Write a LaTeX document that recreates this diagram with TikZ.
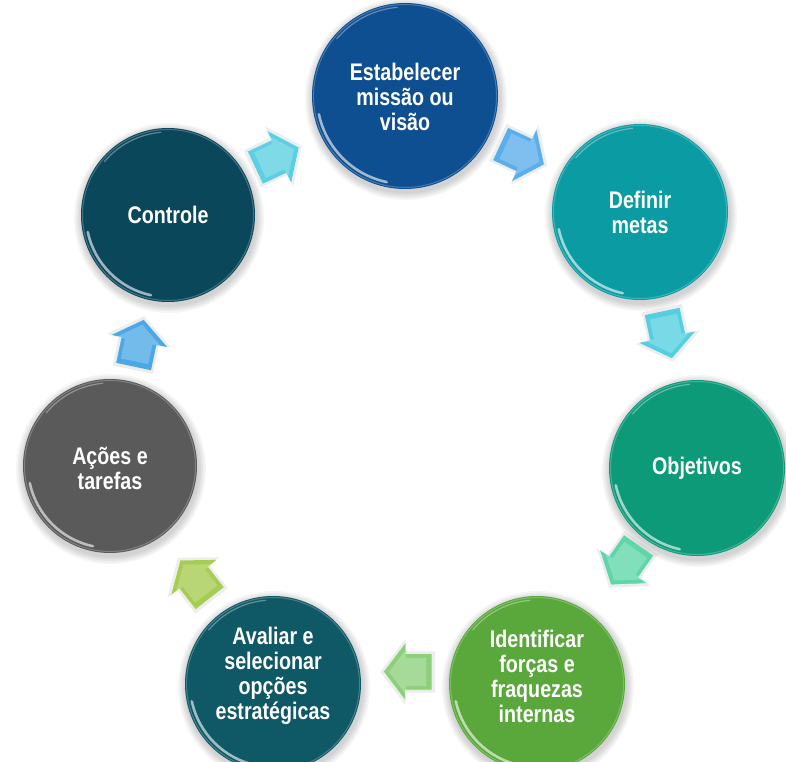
\documentclass[tikz,border=0pt]{standalone}
\usepackage{fontspec}
\newfontfamily\lblfont{Liberation Sans}[FakeStretch=0.82]
\usetikzlibrary{calc}
\definecolor{cEst}{HTML}{0E4F91}
\definecolor{cDef}{HTML}{0A9BA3}
\definecolor{cObj}{HTML}{0D9A79}
\definecolor{cIde}{HTML}{5AA83B}
\definecolor{cAva}{HTML}{0F5866}
\definecolor{cAco}{HTML}{5A5A5A}
\definecolor{cCtl}{HTML}{0B475A}
\definecolor{aA}{HTML}{5CD0E2}
\definecolor{aB}{HTML}{5AAEEC}
\definecolor{aC}{HTML}{55CFE0}
\definecolor{aD}{HTML}{5ED6A9}
\definecolor{aE}{HTML}{8CD07C}
\definecolor{aF}{HTML}{A6CC52}
\definecolor{aG}{HTML}{4BA8E6}
\newcommand\mybubble[6]{%
  \foreach \k in {1,...,5} {\fill[black,opacity=0.035] ($(#2)+(1,-3)$) circle[radius=#3+\k*1.6];}
  \node[bubble, minimum size=2*#3, fill=#4] (#1) at (#2) {};
  \draw[#4!70!white, line width=1pt, opacity=0.8] (#1.center) circle[radius=#3-1.5];
  \draw[white, line width=2.6pt, opacity=0.6, line cap=round] ([shift={(192:#3-5)}]#1.center) arc[start angle=192, end angle=258, radius=#3-5];
  \draw[white, line width=1.2pt, opacity=0.35, line cap=round] ([shift={(95:#3-4)}]#1.center) arc[start angle=95, end angle=140, radius=#3-4];
  \node[lbl] (#1-t) at ($(#1.center)+(0,#6)$) {#5};
}
\begin{document}
\begin{tikzpicture}[x=1pt,y=1pt,
  bubble/.style={circle, inner sep=0pt, draw=none},
  lbl/.style={text=white, align=center, inner sep=0pt, font=\lblfont\bfseries\fontsize{24}{25}\selectfont},
  pics/barrow/.style={code={
    \fill[black,opacity=0.07,scale=1.14] (-24,-18) -- (2,-18) -- (2,-29) -- (24,0) -- (2,29) -- (2,18) -- (-24,18) -- cycle;
    \fill[#1] (-24,-18) -- (2,-18) -- (2,-29) -- (24,0) -- (2,29) -- (2,18) -- (-24,18) -- cycle;
    \fill[#1!60!white,opacity=0.55,scale=0.78] (-24,-18) -- (2,-18) -- (2,-29) -- (24,0) -- (2,29) -- (2,18) -- (-24,18) -- cycle;
    \draw[white,opacity=0.6,line width=0.8pt,line join=round] (-24,18) -- (2,18) -- (2,29) -- (24,0);
  }}]
\useasboundingbox (0,0) rectangle (786,761);
\fill[white] (0,0) rectangle (786,761);
\mybubble{est}{405,665}{93}{cEst}{Estabelecer\\missão ou\\visão}{-1}
\mybubble{def}{640,549}{88}{cDef}{Definir\\metas}{0}
\mybubble{obj}{697,293}{88}{cObj}{Objetivos}{0}
\mybubble{ide}{537,77}{88}{cIde}{Identificar\\forças e\\fraquezas\\internas}{8}
\mybubble{ava}{273,77}{88}{cAva}{Avaliar e\\selecionar\\opções\\estratégicas}{8}
\mybubble{aco}{110,295}{87}{cAco}{Ações e\\tarefas}{-2}
\mybubble{ctl}{168,546}{87}{cCtl}{Controle}{0}
\pic[rotate=25] (a1) at ($(ctl)!0.46!(est)+(0,3)$) {barrow=aA};
\pic[rotate=-25] (a2) at ($(est)!0.5!(def)$) {barrow=aB};
\pic[rotate=-78] (a3) at ($(def)!0.48!(obj)$) {barrow=aC};
\pic[rotate=-125] (a4) at ($(obj)!0.45!(ide)$) {barrow=aD};
\pic[rotate=180] (a5) at ($(ide)!0.49!(ava)+(0,12)$) {barrow=aE};
\pic[rotate=128] (a6) at ($(ava)!0.48!(aco)$) {barrow=aF};
\pic[rotate=78] (a7) at ($(aco)!0.49!(ctl)$) {barrow=aG};
\end{tikzpicture}
\end{document}
